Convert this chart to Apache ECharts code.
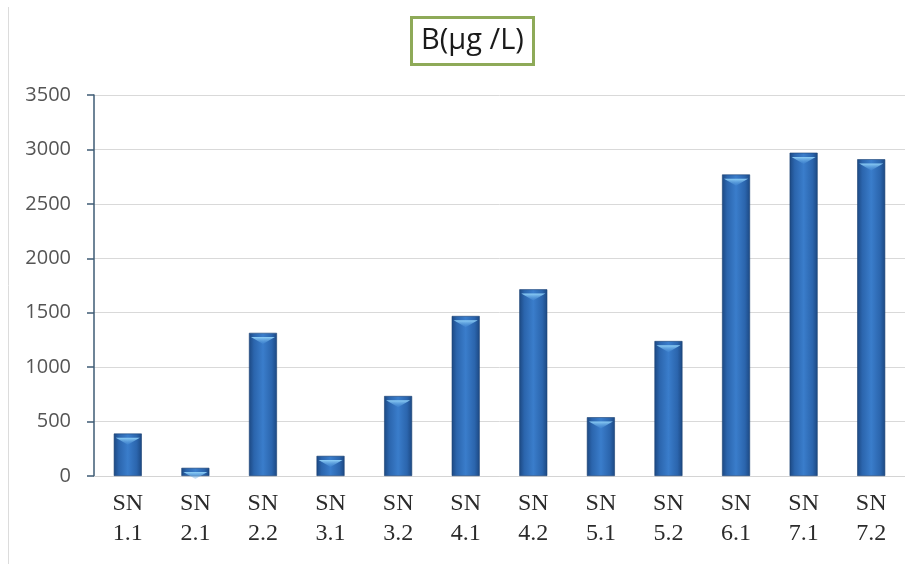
<!DOCTYPE html>
<html>
<head>
<meta charset="utf-8">
<script src="https://cdn.jsdelivr.net/npm/echarts@6/dist/echarts.min.js"></script>
<style>
  html, body { margin: 0; padding: 0; background: #ffffff; }
  #chart { width: 905px; height: 564px; }
</style>
</head>
<body>
<div id="chart"></div>
<script>
// Sample points and measured boron concentration, µg/L
const categories = ['SN\n1.1', 'SN\n2.1', 'SN\n2.2', 'SN\n3.1', 'SN\n3.2', 'SN\n4.1',
                    'SN\n4.2', 'SN\n5.1', 'SN\n5.2', 'SN\n6.1', 'SN\n7.1', 'SN\n7.2'];
const boron = [390, 75, 1315, 185, 735, 1470, 1715, 540, 1240, 2770, 2970, 2910];
const yTicks = { min: 0, max: 3500, step: 500 };
const titleText = 'B(\u00b5g /L)';

const chart = echarts.init(document.getElementById('chart'), null, { renderer: 'canvas' });

// Cylinder-like shading across each bar
const barFill = new echarts.graphic.LinearGradient(0, 0, 1, 0, [
  { offset: 0, color: '#1c4882' },
  { offset: 0.18, color: '#2b65ad' },
  { offset: 0.5, color: '#3a7dcb' },
  { offset: 0.82, color: '#2b65ad' },
  { offset: 1, color: '#1c4882' }
]);
const capFill = new echarts.graphic.LinearGradient(0, 0, 0, 1, [
  { offset: 0, color: '#8fd0f7' },
  { offset: 1, color: 'rgba(80,150,220,0.25)' }
]);

chart.setOption({
  animation: false,
  backgroundColor: '#ffffff',
  title: {
    text: titleText,
    left: 411,
    top: 17,
    padding: [9, 10, 10, 10],
    borderColor: '#8eaa58',
    borderWidth: 3,
    textStyle: {
      fontFamily: 'Open Sans',
      fontSize: 29,
      fontWeight: 'normal',
      color: '#1a1a1a'
    }
  },
  grid: { left: 94, top: 95, width: 816, bottom: 88 },
  xAxis: {
    type: 'category',
    data: categories,
    axisLine: { lineStyle: { color: '#d4d4d4', width: 1 } },
    axisTick: { show: false },
    axisLabel: {
      margin: 13,
      fontFamily: 'Liberation Serif',
      fontSize: 24,
      lineHeight: 30,
      color: '#2b2b2b'
    }
  },
  yAxis: {
    type: 'value',
    min: yTicks.min,
    max: yTicks.max,
    interval: yTicks.step,
    axisLine: { show: true, lineStyle: { color: '#3e5b74', width: 1.5 } },
    axisTick: { show: true, length: 7, lineStyle: { color: '#3e5b74', width: 1.5 } },
    axisLabel: {
      margin: 23,
      fontFamily: 'Open Sans',
      fontSize: 20,
      color: '#555555',
      formatter: (v) => String(v)
    },
    splitLine: { lineStyle: { color: '#d9d9d9', width: 1 } }
  },
  series: [
    {
      type: 'bar',
      data: boron,
      barWidth: 28,
      itemStyle: { color: barFill, borderColor: '#1a3f72', borderWidth: 0.6 }
    },
    {
      // light bevel highlight at the top of each bar
      type: 'pictorialBar',
      data: boron,
      symbol: 'path://M0,0 L20,0 L10,6 Z',
      symbolSize: [24, 7],
      symbolPosition: 'end',
      symbolOffset: [0, '60%'],
      itemStyle: { color: capFill },
      z: 5
    }
  ],
  graphic: [
    {
      type: 'line',
      shape: { x1: 8.5, y1: 7, x2: 8.5, y2: 564 },
      style: { stroke: '#dcdcdc', lineWidth: 1 }
    }
  ]
});
</script>
</body>
</html>
